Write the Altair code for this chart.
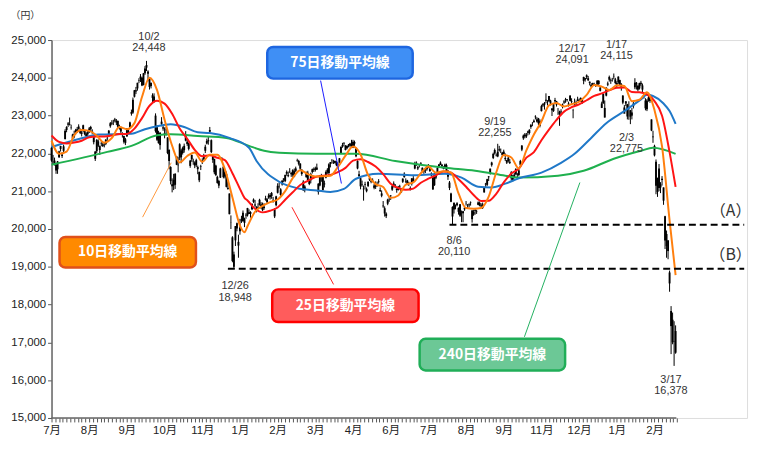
import altair as alt
import pandas as pd

# ---------------- axis labels ----------------
month_labels = ["7月", "8月", "9月", "10月", "11月", "1月", "2月", "3月", "4月",
                "6月", "7月", "8月", "9月", "11月", "12月", "1月", "2月"]
y_ticks = [15000, 16000, 17000, 18000, 19000, 20000, 21000, 22000, 23000, 24000, 25000]

# ---------------- daily OHLC (trading-day index 0 = 2018/7/2) ----------------
opens = [
    # 2018-07
    22150, 21790, 21810, 21700, 21580, 21900, 22120, 21970, 22070, 22380, 22620, 22760, 22780, 22690, 22500, 22440, 22560, 22640, 22650, 22610, 22520,
    # 2018-08
    22600, 22600, 22460, 22560, 22560, 22700, 22580, 22470, 22050, 22060, 22320, 22090, 22260, 22240, 22230, 22250, 22400, 22450, 22720, 22790, 22850, 22900, 22820,
    # 2018-09
    22860, 22680, 22700, 22490, 22460, 22280, 22450, 22560, 22700, 23050, 23080, 23500, 23640, 23720, 23930, 23980, 24000, 23810,
    # 2018-10
    24120, 24340, 24170, 23760, 23870, 23540, 23380, 23000, 22360, 22540, 22220, 22780, 22690, 22500, 22630, 22420, 21800, 21640, 21130, 21300, 21170, 21700,
    # 2018-11
    21700, 21890, 22080, 22010, 22200, 22340, 22310, 22120, 21670, 21960, 21790, 21760, 21690, 21640, 21290, 21660, 21790, 21850, 22070, 22330, 22320,
    # 2018-12
    22620, 22350, 21830, 21850, 21430, 21380, 21270, 21360, 21830, 21650, 21390, 21460, 21090, 20940, 20170, 19780, 19000, 19700, 20150,
    # 2019-01
    19660, 19940, 20260, 20210, 20270, 20380, 20360, 20400, 20450, 20520, 20780, 20650, 20500, 20560, 20640, 20600, 20500, 20590, 20810,
    # 2019-02
    20710, 20830, 20900, 20950, 20770, 20520, 20630, 20960, 21130, 21050, 21180, 21340, 21270, 21510, 21400, 21520, 21490, 21430, 21530,
    # 2019-03
    21540, 21810, 21800, 21730, 21570, 21250, 21030, 21370, 21490, 21190, 21290, 21510, 21590, 21560, 21570, 21200, 21150, 21420, 21390, 21180,
    # 2019-04
    21360, 21570, 21480, 21770, 21800, 21780, 21750, 21760, 21700, 21770, 22010, 22180, 22260, 22200, 22140, 22230, 22200, 22230, 22150, 22300,
    # 2019-05
    22130, 21800, 21450, 21130, 21180, 21050, 21170, 21000, 21140, 21350, 21250, 21300, 21090, 21170, 21170, 21240, 21030, 20880, 20620,
    # 2019-06
    20550, 20340, 20670, 20780, 20870, 21040, 21130, 21150, 21060, 21030, 21110, 21050, 21250, 21370, 21270, 21180, 21220, 21040, 21200, 21340,
    # 2019-07
    21600, 21720, 21600, 21700, 21730, 21620, 21520, 21540, 21580, 21660, 21600, 21420, 21400, 21160, 21360, 21470, 21650, 21700, 21700, 21600, 21620, 21690,
    # 2019-08
    21380, 21230, 20940, 20330, 20690, 20590, 20630, 20560, 20350, 20400, 20470, 20520, 20680, 20620, 20650, 20700, 20490, 20380, 20500, 20450, 20640,
    # 2019-09
    20690, 20600, 20560, 20970, 21180, 21170, 21370, 21460, 21690, 21880, 22090, 21950, 21920, 22110, 22100, 21960, 21980, 21850, 21820,
    # 2019-10
    21800, 21750, 21500, 21280, 21440, 21450, 21440, 21430, 21700, 22100, 22400, 22500, 22450, 22580, 22540, 22700, 22800, 22830, 22960, 22900, 22800,
    # 2019-11
    22730, 23120, 23270, 23290, 23420, 23340, 23380, 23400, 23190, 23120, 23380, 23380, 23150, 23100, 23090, 23240, 23350, 23420, 23430, 23320,
    # 2019-12
    23390, 23360, 23130, 23350, 23310, 23400, 23390, 23470, 23350, 23920, 23990, 24020, 23990, 23900, 23770, 23860, 23820, 23810, 23820, 23920, 23740,
    # 2020-01
    23320, 23320, 22950, 23530, 23820, 23950, 23930, 23930, 24050, 23960, 23820, 23880, 23940, 23750, 23530, 23050, 23320, 23300, 23200,
    # 2020-02
    23140, 23000, 23250, 23750, 23870, 23790, 23720, 23870, 23800, 23500, 23400, 23170, 23420, 23500, 22900, 22450, 22200, 21780,
    # 2020-03
    20980, 21600, 21180, 21300, 21100, 20340, 19550, 19700, 18850, 17830, 17600, 17020, 17300,
]
highs = [
    22170, 21960, 21890, 21730, 21800, 22070, 22200, 22030, 22230, 22640, 22720, 22830, 22950, 22760, 22520, 22600, 22650, 22700, 22770, 22660, 22630,
    22760, 22620, 22560, 22610, 22700, 22730, 22640, 22490, 22060, 22380, 22370, 22210, 22320, 22300, 22300, 22380, 22460, 22620, 22830, 22880, 22890, 22940, 22910,
    22870, 22760, 22710, 22560, 22470, 22410, 22670, 22660, 22840, 23160, 23480, 23680, 23760, 23870, 23990, 24100, 24030, 24130,
    24310, 24448, 24200, 23980, 23870, 23590, 23590, 23060, 22750, 22600, 22560, 22960, 22760, 22690, 22700, 22430, 22110, 21660, 21340, 21460, 21480, 21930,
    21900, 22270, 22120, 22180, 22260, 22590, 22390, 22290, 21830, 21970, 21860, 21790, 21860, 21680, 21520, 21700, 21870, 21990, 22230, 22390, 22450,
    22700, 22370, 21960, 21860, 21700, 21410, 21300, 21620, 21900, 21650, 21560, 21520, 21260, 20940, 20360, 19810, 19400, 20080, 20170,
    19850, 20270, 20350, 20490, 20300, 20420, 20560, 20520, 20470, 20670, 20810, 20770, 20600, 20680, 20800, 20710, 20700, 20680, 20880,
    20820, 20940, 20950, 20980, 20850, 20550, 20880, 21210, 21230, 21080, 21290, 21340, 21440, 21550, 21520, 21610, 21500, 21580, 21600,
    21650, 21860, 21830, 21740, 21580, 21290, 21160, 21520, 21540, 21320, 21490, 21600, 21630, 21650, 21730, 21210, 21430, 21460, 21410, 21280,
    21550, 21610, 21740, 21770, 21850, 21830, 21810, 21800, 21770, 21880, 22190, 22280, 22300, 22220, 22210, 22250, 22280, 22360, 22360, 22340,
    22160, 21820, 21540, 21390, 21280, 21150, 21250, 21100, 21260, 21420, 21330, 21340, 21190, 21260, 21250, 21320, 21100, 21020, 20740,
    20600, 20440, 20800, 20860, 20900, 21170, 21260, 21190, 21080, 21140, 21170, 21080, 21340, 21500, 21340, 21300, 21250, 21130, 21350, 21400,
    21780, 21790, 21670, 21720, 21770, 21630, 21580, 21590, 21660, 21720, 21620, 21500, 21410, 21480, 21460, 21650, 21720, 21790, 21720, 21660, 21730, 21730,
    21560, 21270, 20960, 20600, 20710, 20650, 20710, 20570, 20660, 20490, 20480, 20580, 20740, 20660, 20680, 20730, 20500, 20510, 20530, 20510, 20730,
    20730, 20680, 20700, 21100, 21220, 21330, 21400, 21600, 21780, 22020, 22130, 22000, 22255, 22200, 22130, 22040, 22100, 22000, 21830,
    21940, 21850, 21530, 21430, 21490, 21610, 21480, 21600, 21830, 22220, 22500, 22540, 22540, 22600, 22640, 22780, 22830, 22900, 23010, 22960, 22940,
    22900, 23290, 23330, 23360, 23590, 23410, 23520, 23420, 23200, 23320, 23470, 23390, 23200, 23130, 23170, 23320, 23410, 23470, 23440, 23370,
    23540, 23460, 23180, 23450, 23400, 23500, 23450, 23480, 23460, 24030, 24000, 24091, 24050, 23900, 23860, 23870, 23870, 23830, 23940, 23940, 23760,
    23370, 23580, 23400, 23750, 23900, 24060, 23980, 24000, 24115, 24000, 23910, 24040, 23950, 23860, 23540, 23280, 23380, 23310, 23380,
    23150, 23200, 23360, 23990, 23890, 23820, 23870, 23920, 23850, 23600, 23460, 23440, 23600, 23520, 22900, 22600, 22230, 21840,
    21360, 21720, 21240, 21400, 21100, 20350, 19960, 19700, 18900, 17960, 17790, 17560, 17450,
]
lows = [
    21780, 21710, 21680, 21460, 21460, 21880, 22050, 21880, 22010, 22370, 22560, 22700, 22740, 22630, 22370, 22400, 22500, 22540, 22630, 22510, 22450,
    22560, 22480, 22400, 22460, 22540, 22590, 22510, 22240, 21800, 22010, 22170, 21960, 22190, 22170, 22160, 22220, 22330, 22430, 22680, 22750, 22750, 22820, 22750,
    22670, 22630, 22530, 22420, 22260, 22220, 22440, 22520, 22650, 23000, 23050, 23480, 23570, 23660, 23860, 23890, 23780, 23800,
    24080, 24180, 23910, 23690, 23720, 23330, 23340, 22550, 22330, 22260, 22100, 22720, 22600, 22400, 22470, 21980, 21580, 21180, 20970, 21030, 21060, 21690,
    21500, 21820, 21740, 21970, 22020, 22320, 22200, 22080, 21620, 21780, 21700, 21610, 21640, 21450, 21240, 21560, 21720, 21820, 22010, 22240, 22230,
    22540, 22010, 21750, 21450, 21400, 21200, 21080, 21350, 21780, 21340, 21340, 21100, 21040, 20390, 20000, 19120, 18948, 19550, 19940,
    19240, 19850, 20160, 20190, 20050, 20270, 20330, 20400, 20300, 20500, 20690, 20580, 20440, 20550, 20620, 20530, 20470, 20510, 20750,
    20680, 20800, 20780, 20800, 20700, 20290, 20600, 20940, 21070, 20870, 21150, 21240, 21240, 21410, 21370, 21480, 21380, 21380, 21370,
    21510, 21780, 21680, 21550, 21410, 21010, 20970, 21360, 21280, 21160, 21210, 21470, 21510, 21520, 21560, 20910, 21130, 21250, 21020, 21100,
    21340, 21460, 21420, 21630, 21730, 21720, 21730, 21660, 21620, 21740, 22000, 22150, 22190, 22080, 22110, 22160, 22160, 22170, 22140, 22200,
    21900, 21580, 21340, 21050, 21120, 20750, 21050, 20970, 21110, 21270, 21210, 21240, 21050, 21060, 21120, 21200, 20980, 20840, 20560,
    20330, 20290, 20630, 20720, 20770, 21010, 21100, 21080, 20960, 21020, 21050, 20960, 21220, 21360, 21220, 21160, 21140, 21020, 21150, 21230,
    21580, 21670, 21560, 21630, 21690, 21500, 21460, 21480, 21540, 21610, 21510, 21390, 21040, 21140, 21320, 21450, 21630, 21690, 21610, 21580, 21590, 21510,
    21300, 21030, 20710, 20110, 20410, 20520, 20600, 20380, 20320, 20180, 20180, 20480, 20620, 20550, 20570, 20620, 20170, 20350, 20380, 20400, 20630,
    20600, 20550, 20530, 20960, 21110, 21140, 21270, 21440, 21650, 21850, 21970, 21920, 21900, 22050, 22010, 21900, 21970, 21800, 21720,
    21760, 21720, 21280, 21260, 21340, 21430, 21340, 21400, 21670, 22060, 22360, 22400, 22410, 22480, 22500, 22650, 22720, 22810, 22900, 22820, 22750,
    22690, 23110, 23230, 23160, 23330, 23270, 23360, 23270, 22990, 23100, 23330, 23240, 23020, 22730, 23040, 23190, 23310, 23340, 23370, 23240,
    23380, 23320, 22930, 23260, 23270, 23380, 23360, 23360, 23310, 23830, 23900, 23970, 23920, 23800, 23750, 23800, 23800, 23760, 23800, 23810, 23640,
    23200, 23320, 22950, 23510, 23780, 23900, 23840, 23900, 23960, 23830, 23750, 23840, 23780, 23660, 23300, 23110, 23250, 22900, 22890,
    22775, 22900, 23190, 23700, 23690, 23640, 23690, 23780, 23600, 23450, 23140, 23120, 23370, 23340, 22590, 22280, 21920, 20920,
    20850, 21000, 20950, 21150, 20640, 19470, 19240, 19200, 18340, 16690, 16950, 16378, 16700,
]
closes = [
    21811, 21785, 21717, 21546, 21788, 22052, 22196, 21932, 22187, 22597, 22697, 22794, 22764, 22698, 22397, 22510, 22614, 22586, 22712, 22544, 22553,
    22746, 22512, 22525, 22507, 22662, 22644, 22598, 22298, 21857, 22356, 22204, 22192, 22270, 22199, 22219, 22362, 22410, 22601, 22799, 22813, 22848, 22869, 22865,
    22707, 22697, 22580, 22487, 22307, 22373, 22664, 22604, 22821, 23094, 23420, 23672, 23674, 23869, 23940, 24033, 23796, 24120,
    24245, 24270, 24110, 23975, 23783, 23469, 23506, 22590, 22694, 22271, 22549, 22841, 22658, 22532, 22614, 22010, 22091, 21268, 21184, 21149, 21457, 21920,
    21687, 22243, 21898, 22147, 22085, 22486, 22250, 22269, 21810, 21846, 21803, 21680, 21821, 21583, 21507, 21646, 21812, 21952, 22177, 22262, 22351,
    22574, 22036, 21919, 21501, 21678, 21219, 21148, 21602, 21816, 21374, 21506, 21115, 21061, 20392, 20166, 19155, 19327, 20077, 20014,
    19561, 20038, 20204, 20427, 20163, 20359, 20555, 20442, 20402, 20666, 20719, 20622, 20593, 20574, 20773, 20649, 20664, 20556, 20773,
    20788, 20883, 20844, 20874, 20751, 20333, 20864, 21144, 21139, 20900, 21281, 21302, 21431, 21464, 21425, 21528, 21449, 21556, 21385,
    21602, 21822, 21726, 21596, 21456, 21025, 21125, 21504, 21290, 21287, 21451, 21584, 21567, 21608, 21627, 20977, 21428, 21378, 21033, 21206,
    21509, 21505, 21713, 21724, 21807, 21761, 21802, 21688, 21711, 21871, 22169, 22221, 22277, 22090, 22200, 22218, 22260, 22200, 22307, 22259,
    21923, 21602, 21402, 21344, 21191, 21067, 21188, 21062, 21250, 21301, 21272, 21283, 21151, 21117, 21182, 21260, 21003, 20942, 20601,
    20410, 20408, 20776, 20774, 20884, 21134, 21204, 21129, 21032, 21116, 21124, 20972, 21333, 21462, 21258, 21285, 21193, 21086, 21338, 21275,
    21729, 21754, 21638, 21702, 21746, 21534, 21565, 21533, 21643, 21686, 21535, 21469, 21046, 21466, 21416, 21620, 21709, 21756, 21658, 21616, 21709, 21521,
    21540, 21087, 20720, 20585, 20516, 20593, 20684, 20455, 20655, 20405, 20418, 20563, 20677, 20618, 20628, 20711, 20261, 20456, 20479, 20461, 20704,
    20620, 20626, 20649, 21086, 21200, 21318, 21392, 21597, 21759, 21988, 22001, 21960, 22044, 22079, 22098, 22020, 22048, 21879, 21756,
    21885, 21778, 21341, 21410, 21375, 21587, 21456, 21551, 21798, 22207, 22472, 22451, 22492, 22548, 22625, 22750, 22799, 22867, 22974, 22843, 22927,
    22850, 23251, 23303, 23330, 23391, 23331, 23520, 23319, 23141, 23303, 23416, 23292, 23148, 23038, 23112, 23292, 23373, 23437, 23409, 23293,
    23529, 23379, 23135, 23300, 23354, 23430, 23410, 23391, 23424, 24023, 23952, 24066, 23934, 23864, 23816, 23821, 23830, 23782, 23924, 23837, 23656,
    23204, 23575, 23204, 23739, 23850, 24025, 23916, 23933, 24041, 23864, 23864, 24031, 23795, 23827, 23343, 23216, 23379, 22977, 23205,
    22972, 23084, 23320, 23873, 23828, 23686, 23861, 23828, 23688, 23523, 23194, 23400, 23479, 23387, 22606, 22426, 21948, 21143,
    21344, 21082, 21100, 21329, 20750, 19699, 19867, 19416, 18560, 17431, 17002, 17011, 16727,
]

# ---------------- moving averages (read at sample points) ----------------
ma_short_idx = [0, 5, 10, 15, 20, 25, 30, 35, 40, 45, 50, 55, 60, 65, 70, 75, 80, 85, 90, 95,
                100, 105, 110, 115, 120, 125, 128, 130, 135, 140, 145, 150, 155, 160, 165, 170, 175, 180, 185, 190,
                195, 200, 205, 210, 215, 220, 225, 230, 235, 240, 245, 250, 255, 260, 265, 270, 275, 280, 285, 290,
                295, 300, 305, 310, 315, 320, 325, 330, 335, 340, 345, 350, 355, 360, 365, 370, 375, 380, 385, 390,
                395, 400, 405, 410, 414]
ma10_val = [22338, 21989, 22050, 22477, 22617, 22596, 22470, 22284, 22407, 22697, 22640, 22802, 23492, 24003, 23676, 22889, 22202, 21762, 21932, 22027,
            21778, 21968, 21967, 21580, 20834, 20091, 19913, 20073, 20456, 20610, 20710, 20781, 21002, 21348, 21555, 21453, 21390, 21394, 21410, 21643,
            21940, 22181, 21972, 21429, 21188, 21111, 20824, 20887, 21176, 21233, 21475, 21653, 21489, 21529, 21494, 20941, 20555, 20539, 20556, 20854,
            21495, 21959, 21893, 21602, 22080, 22501, 22843, 23272, 23335, 23243, 23301, 23368, 23549, 23812, 23767, 23680, 23801, 23783, 23383, 23419,
            23620, 23148, 22184, 20229, 18779]
ma25_val = [22475, 22306, 22265, 22287, 22335, 22427, 22445, 22447, 22474, 22512, 22513, 22657, 22934, 23261, 23395, 23317, 23049, 22662, 22389, 22094,
            21924, 21950, 21884, 21824, 21477, 21062, 20825, 20756, 20534, 20440, 20484, 20571, 20776, 20973, 21165, 21276, 21378, 21409, 21431, 21506,
            21618, 21808, 21847, 21773, 21652, 21452, 21199, 21085, 21038, 21070, 21225, 21331, 21421, 21520, 21489, 21319, 21118, 20898, 20743, 20746,
            20931, 21234, 21466, 21596, 21888, 22033, 22348, 22629, 22887, 23106, 23223, 23298, 23407, 23521, 23587, 23671, 23737, 23747, 23626, 23617,
            23561, 23384, 22999, 22035, 21113]
ma75_idx = [0, 20, 31, 53, 62, 70, 79, 88, 97, 105, 118, 131, 136, 151, 163, 176, 185, 194, 202, 217,
            241, 261, 272, 283, 292, 301, 310, 325, 338, 347, 358, 368, 380, 391, 395, 399, 406, 410, 414]
ma75_val = [22170, 22400, 22500, 22520, 22640, 22720, 22770, 22700, 22560, 22540, 22410, 22150, 21800, 21250, 21080, 21020, 20980, 21060, 21330, 21460,
            21420, 21460, 21360, 21120, 21100, 21200, 21340, 21490, 21750, 21990, 22410, 22800, 23120, 23430, 23550, 23520, 23320, 23120, 22780]
ma240_idx = [0, 37, 53, 70, 79, 97, 116, 131, 141, 151, 176, 202, 228, 261, 281, 301, 309, 336, 353, 373, 391, 399, 414]
ma240_val = [21700, 22040, 22200, 22480, 22510, 22460, 22410, 22200, 22070, 22020, 21990, 21990, 21800, 21620, 21540, 21410, 21360, 21410, 21540, 21860,
             22070, 22150, 21990]

# ---------------- annotation texts ----------------
peak_dates = ["10/2", "12/26", "8/6", "9/19", "12/17", "1/17", "2/3", "3/17"]
peak_values = ["24,448", "18,948", "20,110", "22,255", "24,091", "24,115", "22,775", "16,378"]
box_texts = ["75日移動平均線", "10日移動平均線", "25日移動平均線", "240日移動平均線"]
level_texts = ["（A）", "（B）"]
level_values = [20110, 18948]

FONT = "Liberation Sans, Arial, Noto Sans CJK JP"
CJK = "Noto Sans CJK JP"

n = len(closes)
candles = pd.DataFrame({"i": list(range(n)), "o": opens, "h": highs, "l": lows, "c": closes})

X_DOMAIN = [0, 461.4]
xs = alt.Scale(domain=X_DOMAIN, nice=False, zero=False)
ys = alt.Scale(domain=[15000, 25000], nice=False, zero=False)

tick_vals = [k * 2.5 for k in range(0, 167)]
arr = "[" + ",".join("'" + m + "'" for m in month_labels) + "]"
label_expr = f"(datum.value % 25 === 0 && datum.value / 25 < {len(month_labels)}) ? {arr}[datum.value / 25] : ''"

x_axis = alt.Axis(values=tick_vals, tickCount=400, labelExpr=label_expr, tickSize=4, tickColor="#555", tickWidth=1,
                  domain=False, grid=False, labelFont=FONT, labelFontSize=11.5, labelColor="#222",
                  labelPadding=3, labelOverlap=False, labelFlush=False, labelBound=False, title=None)
y_axis = alt.Axis(values=y_ticks, tickCount=50, format=",d", tickSize=4, tickColor="#555", domainColor="#666",
                  domainWidth=1.5, grid=False, labelFont=FONT, labelFontSize=11.5, labelColor="#222", labelPadding=2,
                  labelOverlap=False, title="（円）", titleAngle=0, titleX=-27, titleY=-25, titleBaseline="middle",
                  titleFont=CJK, titleFontSize=10, titleFontWeight="normal", titleColor="#333", titleAlign="center")

base = alt.Chart(candles)
wick = base.mark_rule(color="black", strokeWidth=1).encode(
    x=alt.X("i:Q", scale=xs, axis=x_axis),
    y=alt.Y("l:Q", scale=ys, axis=y_axis),
    y2="h:Q",
)
body = base.mark_rule(color="black", strokeWidth=1.9).encode(x="i:Q", y="o:Q", y2="c:Q")

xline = alt.Chart(pd.DataFrame({"a": [0], "b": [n - 0.5], "y": [15000]})).mark_rule(
    color="#666", strokeWidth=1.5).encode(x="a:Q", x2="b:Q", y="y:Q")


def ma_line(idx, vals, color):
    df = pd.DataFrame({"i": idx, "v": vals})
    return alt.Chart(df).mark_line(color=color, strokeWidth=2, interpolate="monotone").encode(x="i:Q", y="v:Q")


ma240 = ma_line(ma240_idx, ma240_val, "#1fb04e")
ma75 = ma_line(ma75_idx, ma75_val, "#1f78c8")
ma25 = ma_line(ma_short_idx, ma25_val, "#ff1414")
ma10 = ma_line(ma_short_idx, ma10_val, "#ff7f0e")

# support levels (A), (B)
lv = pd.DataFrame({"x": [264, 117], "x2": [459.5, 459.5], "y": level_values})
levels = alt.Chart(lv).mark_rule(color="black", strokeWidth=2, strokeDash=[7, 4]).encode(
    x="x:Q", x2="x2:Q", y="y:Q")
lvt = pd.DataFrame({"x": [450.5, 450.5], "y": [20480, 19320], "t": level_texts})
level_labels = alt.Chart(lvt).mark_text(font=CJK, fontSize=16, color="#333").encode(
    x="x:Q", y="y:Q", text="t:N")

# leader lines
leaders = []
for (x1, y1, x2, y2, col) in [
    (178.5, 23927, 192.3, 21204, "#1a1aff"),
    (60.4, 20314, 79.4, 21754, "#ff9a40"),
    (187.1, 18534, 159.5, 20576, "#ff2020"),
    (313.7, 17147, 350.5, 21230, "#22b060"),
]:
    d = pd.DataFrame({"x": [x1], "y": [y1], "x2": [x2], "y2": [y2]})
    leaders.append(alt.Chart(d).mark_rule(color=col, strokeWidth=1).encode(
        x="x:Q", y="y:Q", x2="x2:Q", y2="y2:Q"))

# callout boxes
boxes = []
for (t, x1, x2, y1, y2, fill, stroke) in [
    (box_texts[0], 143.1, 239.6, 24817, 23979, "#3f8ff5", "#1e66e0"),
    (box_texts[1], 5.3, 95.8, 19791, 18979, "#ff8a00", "#e0501a"),
    (box_texts[2], 146.4, 243.5, 18403, 17539, "#ff5c5c", "#ff0000"),
    (box_texts[3], 244.2, 340.7, 17094, 16257, "#6cc896", "#20ae58"),
]:
    d = pd.DataFrame({"x": [x1], "x2": [x2], "y": [y1], "y2": [y2],
                      "cx": [(x1 + x2) / 2], "cy": [(y1 + y2) / 2], "t": [t]})
    c = alt.Chart(d)
    boxes.append(c.mark_rect(fill=fill, stroke=stroke, strokeWidth=2.5, cornerRadius=6).encode(
        x="x:Q", x2="x2:Q", y="y:Q", y2="y2:Q"))
    boxes.append(c.mark_text(font=CJK, fontSize=14, fontWeight="bold", color="white").encode(
        x="cx:Q", y="cy:Q", text="t:N"))

# peak / trough labels
lab_x = [64.6, 121.8, 267.1, 294.1, 345.3, 374.8, 381.4, 410.9]
val_y = [24790, 18180, 19390, 22530, 24470, 24575, 22115, 15700]
date_y = [25090, 18480, 19690, 22830, 24770, 24875, 22415, 16000]
pk = pd.DataFrame({"x": lab_x * 2, "y": date_y + val_y, "t": peak_dates + peak_values})
peak_labels = alt.Chart(pk).mark_text(font=FONT, fontSize=11, color="#333").encode(
    x="x:Q", y="y:Q", text="t:N")

chart = alt.layer(
    wick, body, xline, ma240, ma75, ma25, ma10, levels, level_labels,
    *leaders, *boxes, peak_labels
).properties(
    width=703, height=382,
    autosize=alt.AutoSizeParams(type="none"),
    padding={"left": 44, "top": 30, "right": 5, "bottom": 32},
).configure_view(stroke=None).configure(background="white")

chart.save("out.html", embed_options={"renderer": "svg", "actions": False})
